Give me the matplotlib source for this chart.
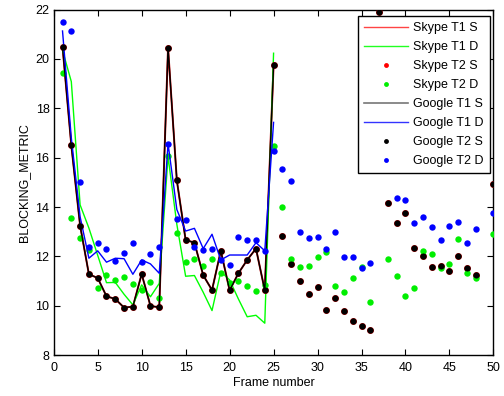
import numpy as np
import matplotlib
matplotlib.use("Agg")
import matplotlib.pyplot as plt
from matplotlib.lines import Line2D

plt.rcParams['font.family'] = ['Liberation Sans', 'DejaVu Sans']

nan = np.nan
frames = np.arange(1, 51)
frames_t1 = np.arange(1, 26)

# Type-2 measurements (markers), frames 1..50
google_t2_s = [20.5, 16.5, 13.25, 11.28, 11.13, 10.39, 10.28, 9.93, 9.97, 11.29,
               10.0, 9.94, 20.45, 15.08, 12.67, 12.56, 11.24, 10.64, 12.23, 10.63,
               11.32, 11.86, 12.32, 10.63, 19.75,
               12.83, 11.68, 11.0, 10.47, 10.77, 9.85, 10.31, 9.81, 9.4, 9.2,
               9.04, 21.9, 14.15, 13.37, 13.77, 12.36, 12.02, 11.56, 11.62, 11.4,
               12.02, 11.52, 11.24, nan, 14.92]
skype_t2_s = list(google_t2_s)

google_t2_d = [21.48, 21.14, 15.02, 12.38, 12.56, 12.3, 11.82, 12.14, 12.56, 11.78,
               12.1, 12.38, 16.57, 13.53, 13.49, 12.38, 12.26, 12.3, 11.86, 11.64,
               12.79, 12.67, 12.67, 12.23, 16.27,
               15.54, 15.06, 13.0, 12.76, 12.8, 12.3, 13.0, 11.99, 11.99, 11.53,
               11.74, nan, nan, 14.36, 14.28, 13.37, 13.59, 13.21, 12.68, 13.25,
               13.41, 12.56, 13.13, nan, 13.75]

skype_t2_d = [19.43, 13.57, 12.75, 12.26, 10.71, 11.25, 11.05, 11.17, 10.87, 10.63,
              10.96, 10.31, 16.05, 12.94, 11.78, 11.9, 11.62, 11.9, 11.33, 10.91,
              11.01, 10.81, 10.59, 10.83, 16.49,
              14.02, 11.9, 11.57, 11.63, 11.98, 12.17, 10.79, 10.55, 11.12, 11.59,
              10.15, nan, 11.9, 11.2, 10.39, 10.71, 12.22, 12.1, 11.52, 11.7,
              12.72, 11.32, 11.12, nan, 12.92]

# Type-1 measurements (lines), frames 1..25
skype_t1_s = google_t2_s[:25]
google_t1_s = google_t2_s[:25]
google_t1_d = [21.13, 16.8, 13.61, 11.93, 12.23, 11.77, 11.93, 11.91, 11.28, 11.86,
               11.7, 11.32, 16.57, 13.9, 13.03, 13.14, 12.32, 12.9, 11.86, 12.06,
               12.06, 12.06, 12.56, 12.23, 17.43]
skype_t1_d = [20.35, 19.08, 14.09, 13.15, 12.05, 10.94, 10.95, 10.47, 10.04, 10.85,
              10.37, 10.91, 16.05, 13.3, 11.2, 11.23, 10.55, 9.81, 11.39, 11.05,
              10.28, 9.56, 9.62, 9.3, 20.23]

labels = ["Skype T1 S", "Skype T1 D", "Skype T2 S", "Skype T2 D",
          "Google T1 S", "Google T1 D", "Google T2 S", "Google T2 D"]

fig = plt.figure(figsize=(5.04, 3.96), dpi=100)
ax = fig.add_axes([0.1066, 0.1028, 0.8724, 0.8732])

ax.plot(frames_t1, skype_t1_s, color='#c00000', lw=1.4, zorder=2)
ax.plot(frames_t1, skype_t1_d, color='#00ff00', lw=1.0, zorder=2)
ax.plot(frames, skype_t2_s, ls='none', marker='o', ms=5.0, color='#a00000', mec='none', zorder=3)
ax.plot(frames, skype_t2_d, ls='none', marker='o', ms=4.6, color='#00ee00', mec='none', zorder=3)
ax.plot(frames_t1, google_t1_s, color='#000000', lw=1.0, zorder=4)
ax.plot(frames_t1, google_t1_d, color='#0000ff', lw=1.0, zorder=4)
ax.plot(frames, google_t2_s, ls='none', marker='o', ms=4.4, color='#000000', mec='none', zorder=5)
ax.plot(frames, google_t2_d, ls='none', marker='o', ms=4.6, color='#0000ff', mec='none', zorder=5)

ax.set_xlim(0, 50)
ax.set_ylim(8, 22)
ax.set_xticks(np.arange(0, 51, 5))
ax.set_yticks(np.arange(8, 23, 2))
ax.tick_params(direction='in', top=True, right=True, length=4, width=0.8,
               labelsize=9)
ax.tick_params(axis='x', pad=5)
ax.tick_params(axis='y', pad=3)
for sp in ax.spines.values():
    sp.set_linewidth(1.0)

ax.set_xlabel("Frame number", fontsize=9, labelpad=2)
ax.set_ylabel("BLOCKING_METRIC", fontsize=9, labelpad=4)

handles = [
    Line2D([], [], color='#ff4444', lw=1.0),
    Line2D([], [], color='#22ff22', lw=1.0),
    Line2D([], [], ls='none', marker='o', ms=3.5, color='#ff0000', mec='none'),
    Line2D([], [], ls='none', marker='o', ms=3.5, color='#00ee00', mec='none'),
    Line2D([], [], color='#777777', lw=1.2),
    Line2D([], [], color='#3333ff', lw=1.0),
    Line2D([], [], ls='none', marker='o', ms=3.5, color='#000000', mec='none'),
    Line2D([], [], ls='none', marker='o', ms=3.5, color='#0000ff', mec='none'),
]
leg = ax.legend(handles, labels, loc='upper right', bbox_to_anchor=(0.9915, 0.9815),
                fontsize=9, frameon=True, fancybox=False, borderaxespad=0,
                handlelength=3.5, handletextpad=0.4, labelspacing=0.56,
                borderpad=0.5)
leg.get_frame().set_edgecolor('black')
leg.get_frame().set_linewidth(1.0)
leg.get_frame().set_alpha(1.0)

fig.savefig("out.png", dpi=100)
